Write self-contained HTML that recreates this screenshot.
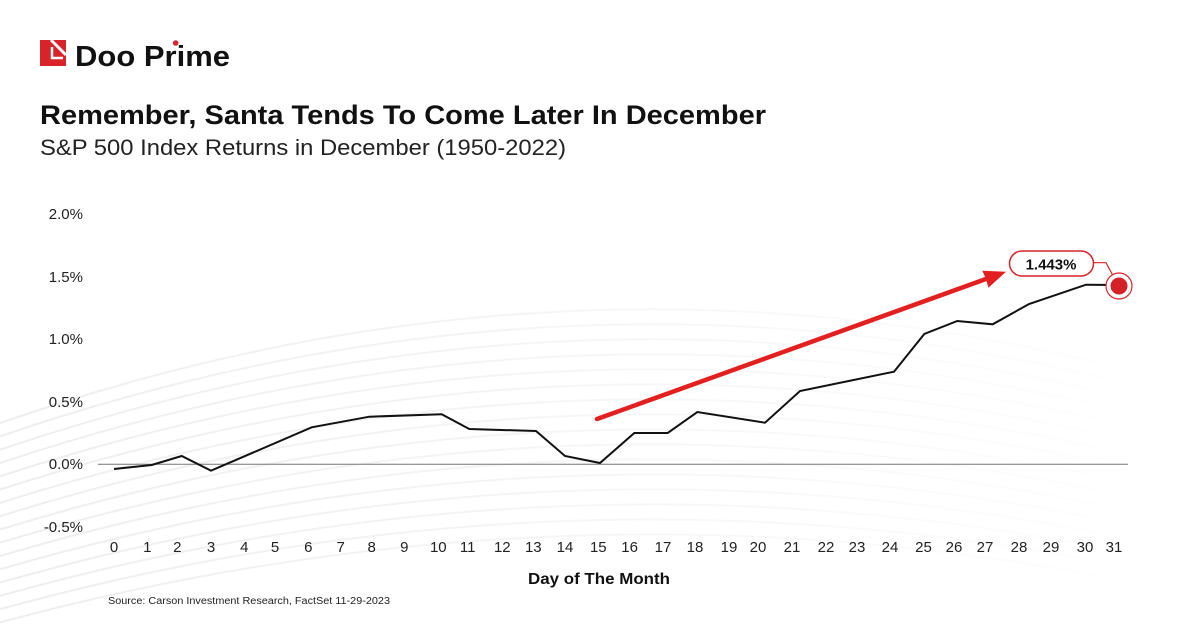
<!DOCTYPE html>
<html>
<head>
<meta charset="utf-8">
<style>
  html,body{margin:0;padding:0;background:#fff;width:1200px;height:628px;overflow:hidden;}
  svg{display:block;overflow:hidden;}
  text{font-family:"Liberation Sans",Arial,sans-serif;}
</style>
</head>
<body>
<svg width="1200" height="628" viewBox="0 0 1200 628" xmlns="http://www.w3.org/2000/svg">
  <defs>
    <linearGradient id="fade" x1="0" y1="0" x2="1200" y2="0" gradientUnits="userSpaceOnUse">
      <stop offset="0" stop-color="#eeeeee"/>
      <stop offset="0.5" stop-color="#f6f6f6"/>
      <stop offset="1" stop-color="#ffffff"/>
    </linearGradient>
  </defs>
  <rect width="1200" height="628" fill="#ffffff"/>
  <!-- faint background arcs (kept inside frame) -->
  <g fill="none" stroke="url(#fade)" stroke-width="2">
    <path d="M0 622.4 Q600 460.5 1200 596.5"/>
    <path d="M0 609.2 Q600 444.1 1200 582.7"/>
    <path d="M0 595.9 Q600 427.6 1200 568.9"/>
    <path d="M0 582.6 Q600 411.1 1200 555.1"/>
    <path d="M0 569.3 Q600 394.7 1200 541.3"/>
    <path d="M0 556.0 Q600 378.2 1200 527.5"/>
    <path d="M0 542.7 Q600 361.8 1200 513.7"/>
    <path d="M0 529.5 Q600 345.3 1200 500.0"/>
    <path d="M0 516.2 Q600 328.8 1200 486.2"/>
    <path d="M0 502.9 Q600 312.4 1200 472.4"/>
    <path d="M0 489.6 Q600 295.9 1200 458.6"/>
    <path d="M0 476.3 Q600 279.5 1200 444.8"/>
    <path d="M0 463.0 Q600 263.0 1200 431.0"/>
    <path d="M0 449.7 Q600 246.5 1200 417.2"/>
    <path d="M0 436.4 Q600 230.1 1200 403.4"/>
    <path d="M0 423.1 Q600 213.6 1200 389.6"/>
  </g>

  <!-- Logo -->
  <rect x="40" y="40" width="26" height="26" fill="#d9232a"/>
  <path d="M51 40 L66 55" stroke="#fff" stroke-width="3"/>
  <path d="M52 47 L52 58 L63 58" stroke="#fff" stroke-width="2.5" fill="none"/>
  <text x="75" y="66" font-size="29" font-weight="bold" fill="#111" textLength="155" lengthAdjust="spacingAndGlyphs">Doo Prime</text>
  <circle cx="175.7" cy="43" r="2.8" fill="#d9232a"/>

  <!-- Titles -->
  <text x="40" y="124" font-size="27" font-weight="bold" fill="#111" textLength="726" lengthAdjust="spacingAndGlyphs">Remember, Santa Tends To Come Later In December</text>
  <text x="40" y="155" font-size="22" fill="#222" textLength="526" lengthAdjust="spacingAndGlyphs">S&amp;P 500 Index Returns in December (1950-2022)</text>

  <!-- Y axis labels -->
  <g font-size="15" fill="#222" text-anchor="end">
    <text x="83" y="219">2.0%</text>
    <text x="83" y="282">1.5%</text>
    <text x="83" y="344">1.0%</text>
    <text x="83" y="407">0.5%</text>
    <text x="83" y="469">0.0%</text>
    <text x="83" y="532">-0.5%</text>
  </g>

  <!-- zero line -->
  <line x1="98" y1="464.3" x2="1128" y2="464.3" stroke="#777" stroke-width="1"/>

  <!-- X labels -->
  <g font-size="15" fill="#222" text-anchor="middle">
    <text x="114" y="552">0</text>
    <text x="147.3" y="552">1</text>
    <text x="177.3" y="552">2</text>
    <text x="211" y="552">3</text>
    <text x="244.3" y="552">4</text>
    <text x="275" y="552">5</text>
    <text x="308.3" y="552">6</text>
    <text x="340.7" y="552">7</text>
    <text x="371.7" y="552">8</text>
    <text x="404.3" y="552">9</text>
    <text x="438.3" y="552">10</text>
    <text x="467.7" y="552">11</text>
    <text x="502.3" y="552">12</text>
    <text x="533.3" y="552">13</text>
    <text x="565" y="552">14</text>
    <text x="598.3" y="552">15</text>
    <text x="629.6" y="552">16</text>
    <text x="663" y="552">17</text>
    <text x="695" y="552">18</text>
    <text x="729" y="552">19</text>
    <text x="758" y="552">20</text>
    <text x="792" y="552">21</text>
    <text x="826" y="552">22</text>
    <text x="857" y="552">23</text>
    <text x="890" y="552">24</text>
    <text x="923.5" y="552">25</text>
    <text x="954" y="552">26</text>
    <text x="985" y="552">27</text>
    <text x="1019" y="552">28</text>
    <text x="1051" y="552">29</text>
    <text x="1085" y="552">30</text>
    <text x="1114" y="552">31</text>
  </g>

  <text x="599" y="584" font-size="15.5" font-weight="bold" fill="#111" text-anchor="middle" textLength="142" lengthAdjust="spacingAndGlyphs">Day of The Month</text>
  <text x="108" y="604" font-size="10" fill="#222" textLength="282" lengthAdjust="spacingAndGlyphs">Source: Carson Investment Research, FactSet 11-29-2023</text>

  <!-- data line -->
  <polyline fill="none" stroke="#111" stroke-width="2" stroke-linejoin="miter"
    points="114,469 151.7,465 181.7,456 211,470.7 311.7,427.3 369.3,416.7 441.7,414.3 469.3,429 536,431 565,456 600,463 634.3,433 667.7,433 697.3,412 765,422.7 800,391 894,371.7 924.3,334 957.3,321 992.7,324.3 1029,304 1086,284.7 1118,285"/>

  <!-- red arrow -->
  <line x1="597" y1="419" x2="988" y2="278.3" stroke="#e2201f" stroke-width="4.5" stroke-linecap="round"/>
  <polygon points="1006,271.7 982.3,270.7 986,279 988.4,287.7" fill="#e2201f"/>

  <!-- callout -->
  <polyline points="1093,262.7 1106,262.7 1117,283" fill="none" stroke="#d9232a" stroke-width="1.2"/>
  <rect x="1009.5" y="251" width="84" height="25" rx="12.5" ry="12.5" fill="#fff" stroke="#d9232a" stroke-width="1.5"/>
  <text x="1051" y="269.5" font-size="15" font-weight="bold" fill="#111" text-anchor="middle">1.443%</text>

  <circle cx="1119" cy="286" r="13" fill="#fff" stroke="#d9232a" stroke-width="1.2"/>
  <circle cx="1119" cy="286" r="8.5" fill="#d42027"/>
</svg>
</body>
</html>
